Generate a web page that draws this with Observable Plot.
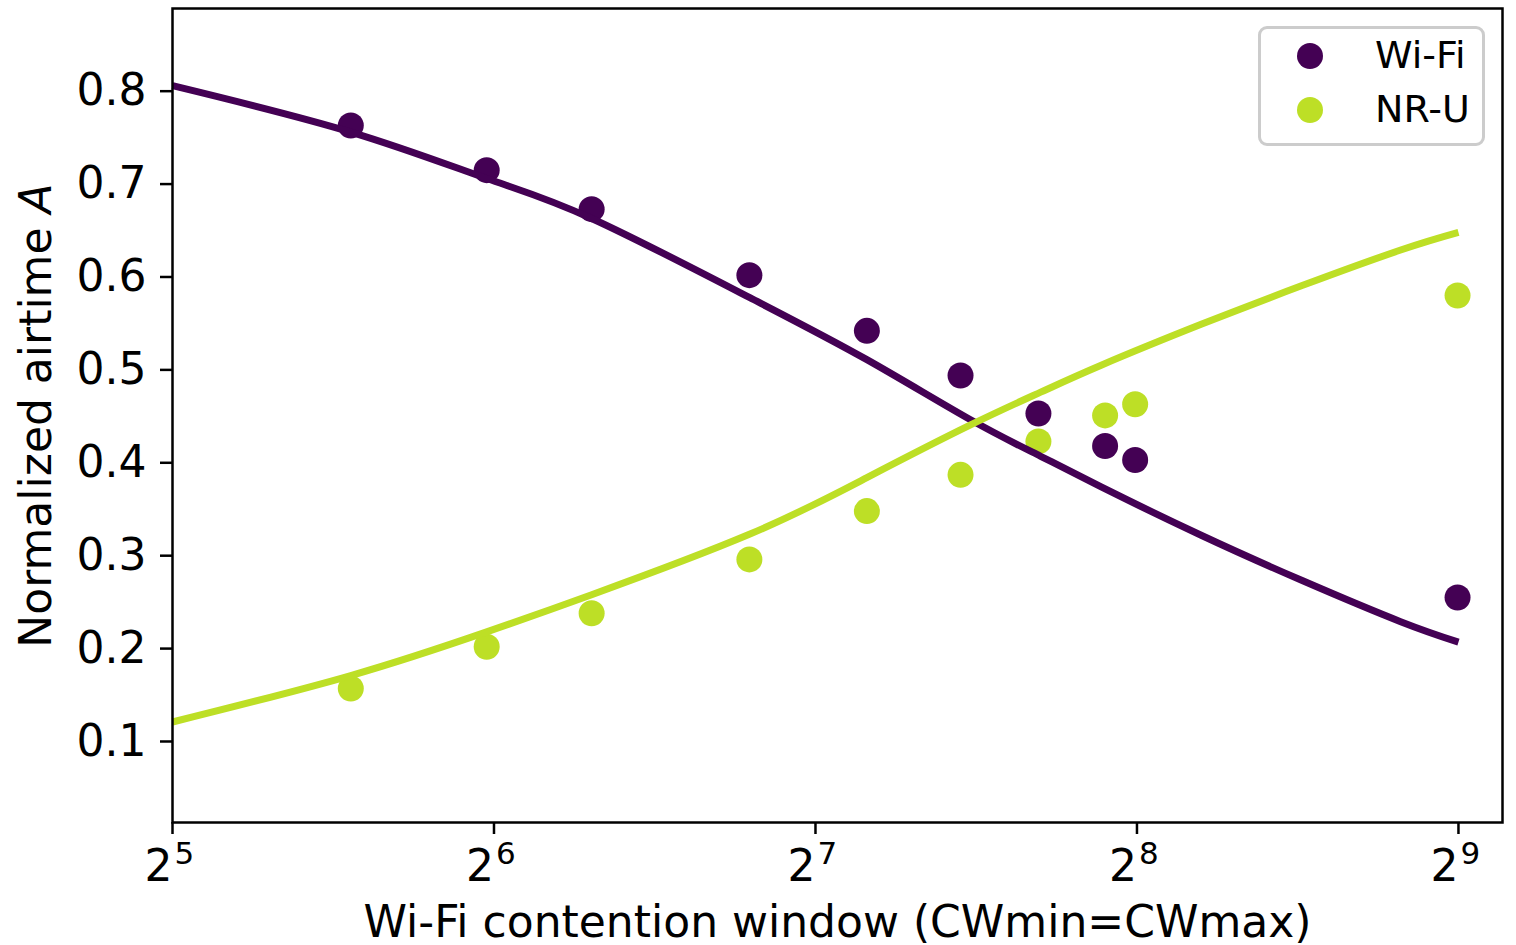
<!DOCTYPE html>
<html>
<head>
<meta charset="utf-8">
<script src="https://cdn.jsdelivr.net/npm/d3@7"></script>
<script src="https://cdn.jsdelivr.net/npm/@observablehq/plot@0.6"></script>
<style>
html, body { margin: 0; padding: 0; background: #fff; }
#wrap { position: relative; width: 1516px; height: 945px; font-family: "DejaVu Sans", sans-serif; }
#legend { position: absolute; left: 1258px; top: 26px; width: 221px; height: 114px;
  border: 3px solid #cccccc; border-radius: 9px; background: rgba(255,255,255,0.8); }
.sw { position: absolute; width: 26px; height: 26px; border-radius: 50%; left: 36px; }
.lt { position: absolute; left: 114px; font-size: 38px; line-height: 40px; white-space: nowrap; color: #000; }
</style>
</head>
<body>
<div id="wrap"></div>
<script>
// ---- data ----
const series = ["Wi-Fi", "NR-U"];
const colors = ["#440154", "#bddf26"];

// measured points
const cw   = [47, 63, 79, 111, 143, 175, 207, 239, 255, 511];
const wifi = [0.763, 0.715, 0.673, 0.602, 0.542, 0.494, 0.453, 0.418, 0.403, 0.255];
const nru  = [0.157, 0.202, 0.238, 0.296, 0.348, 0.387, 0.423, 0.451, 0.463, 0.580];

// fitted curves
const fitCw   = [32, 47, 63, 79, 111, 143, 179, 208, 237, 294, 366, 452, 512];
const wifiFit = [0.806, 0.756, 0.706, 0.663, 0.578, 0.511, 0.446, 0.407, 0.374, 0.322, 0.273, 0.229, 0.207];
const nruFit  = [0.121, 0.171, 0.218, 0.258, 0.323, 0.384, 0.441, 0.476, 0.505, 0.549, 0.591, 0.629, 0.648];

const xTicks   = [32, 64, 128, 256, 512];
const xTickExp = ["5", "6", "7", "8", "9"];
const yTicks   = [0.1, 0.2, 0.3, 0.4, 0.5, 0.6, 0.7, 0.8];
const xLabel = "Wi-Fi contention window (CWmin=CWmax)";
const yLabel = "Normalized airtime A";

// ---- tables ----
const pts = cw.flatMap((c, i) => [
  {cw: c, v: wifi[i], s: series[0]},
  {cw: c, v: nru[i], s: series[1]}
]);
const fit = [
  ...fitCw.map((c, i) => ({cw: c, v: wifiFit[i], s: series[0]})),
  ...fitCw.map((c, i) => ({cw: c, v: nruFit[i], s: series[1]}))
];

const FONT = '"DejaVu Sans", sans-serif';

const chart = Plot.plot({
  width: 1516,
  height: 945,
  marginLeft: 172,
  marginRight: 14,
  marginTop: 8,
  marginBottom: 123,
  style: {fontFamily: FONT, background: "white", color: "black", overflow: "visible"},
  x: {type: "log", base: 2, domain: [32, 563]},
  y: {domain: [0.0128, 0.889]},
  color: {domain: series, range: colors},
  marks: [
    Plot.dot(pts, {x: "cw", y: "v", fill: "s", r: 13}),
    Plot.line(fit, {x: "cw", y: "v", stroke: "s", z: "s", strokeWidth: 7, curve: "natural", strokeLinecap: "butt"}),
    Plot.frame({stroke: "black", strokeWidth: 2.5}),
    Plot.axisY({ticks: yTicks, tickSize: 12, tickPadding: 14, fontSize: 44, tickFormat: d3.format(".1f"), strokeWidth: 2.5, label: null}),
    Plot.axisX({ticks: xTicks, tickSize: 12, tickFormat: () => "", strokeWidth: 2.5, label: null}),
    Plot.text(xTicks, {x: d => d, frameAnchor: "bottom", text: () => "2", textAnchor: "end", lineAnchor: "bottom", dy: 58, dx: 0, fontSize: 44}),
    Plot.text(xTicks, {x: d => d, frameAnchor: "bottom", text: (d, i) => xTickExp[i], textAnchor: "start", lineAnchor: "bottom", dy: 41, dx: 2, fontSize: 31}),
    Plot.text([xLabel], {frameAnchor: "bottom", text: d => d, textAnchor: "middle", lineAnchor: "bottom", dy: 114, fontSize: 44}),
    Plot.text([yLabel], {frameAnchor: "left", text: d => d, rotate: -90, textAnchor: "middle", lineAnchor: "bottom", dx: -122, fontSize: 44})
  ]
});

// italic "A" in the y label
d3.select(chart).selectAll("text").filter(function() { return this.textContent === yLabel; })
  .each(function() {
    const t = d3.select(this);
    t.text("Normalized airtime ");
    t.append("tspan").attr("font-style", "italic").text("A");
  });

const wrap = document.getElementById("wrap");
wrap.appendChild(chart);

// legend
const legend = document.createElement("div");
legend.id = "legend";
const rows = [27, 81];
series.forEach((s, i) => {
  const sw = document.createElement("div");
  sw.className = "sw";
  sw.style.top = (rows[i] - 13) + "px";
  sw.style.background = colors[i];
  legend.appendChild(sw);
  const lt = document.createElement("div");
  lt.className = "lt";
  lt.style.top = (rows[i] - 21) + "px";
  lt.textContent = s;
  legend.appendChild(lt);
});
wrap.appendChild(legend);
</script>
</body>
</html>
